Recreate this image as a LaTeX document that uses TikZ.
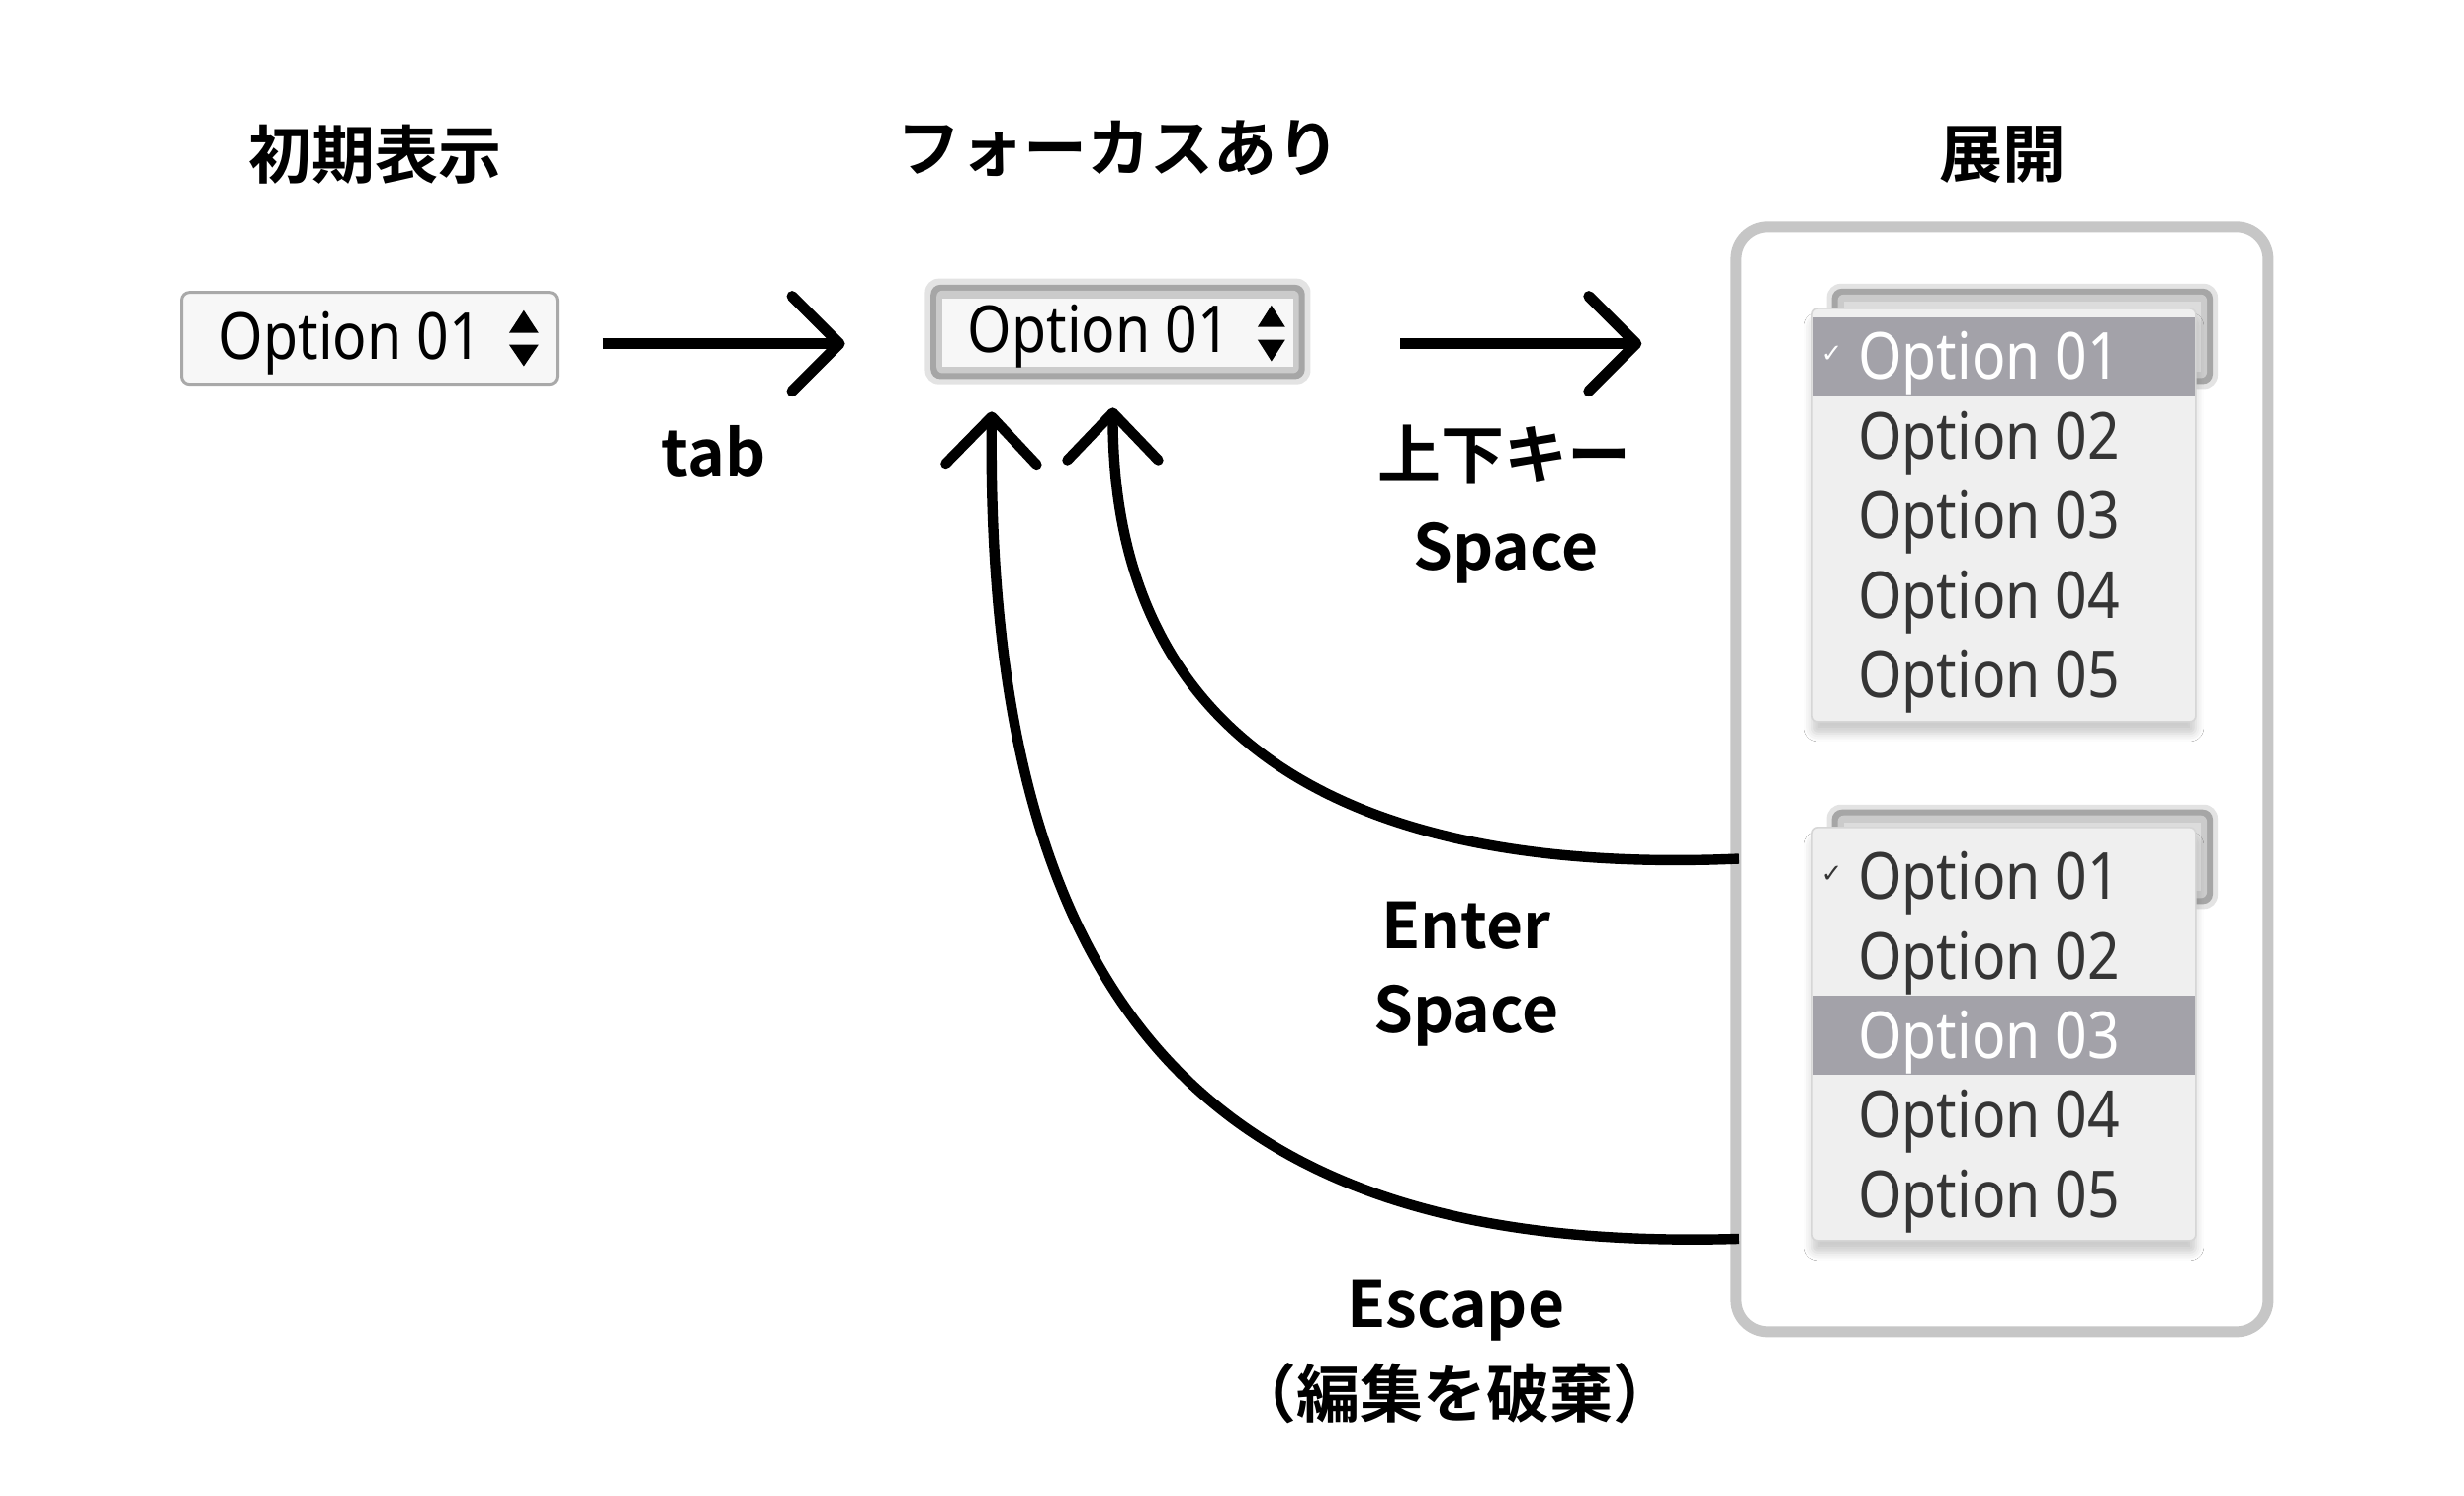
\documentclass[tikz,border=0pt]{standalone}
\usepackage{fontspec}
\usetikzlibrary{arrows.meta,shadows.blur}
\newfontfamily\jpb{Noto Sans CJK JP Bold}
\newfontfamily\optf[FakeStretch=0.87]{Noto Sans}
\newfontfamily\symf{DejaVu Sans}
\definecolor{boxborder}{HTML}{A9A9A9}
\definecolor{boxfill}{HTML}{F7F7F7}
\definecolor{glow}{HTML}{E3E3E3}
\definecolor{ring}{HTML}{A6A6A6}
\definecolor{band}{HTML}{CBCBCB}
\definecolor{panelgray}{HTML}{C6C6C6}
\definecolor{listbg}{HTML}{EFEFEF}
\definecolor{listborder}{HTML}{D6D6D6}
\definecolor{hl}{HTML}{A3A2A9}
\definecolor{opttext}{HTML}{353535}
\begin{document}
\begin{tikzpicture}[x=0.25pt,y=-0.25pt,
  lbl/.style={font=\jpb\fontsize{16pt}{20pt}\selectfont, inner sep=0pt},
  opt/.style={font=\optf\fontsize{16.4pt}{20pt}\selectfont, inner sep=0pt, anchor=base west, text=opttext},
  flow/.style={line width=2.75pt, line cap=butt, -{Straight Barb[length=12pt,width=24pt,round]}},
  flowc/.style={line width=2.6pt, line cap=butt, -{Straight Barb[length=12pt,width=23pt,round]}},
  tri/.style={fill=black},
  chk/.style={font=\symf\fontsize{6.5pt}{7pt}\selectfont, inner sep=0pt},
  listbox/.style={fill=listbg, draw=listborder, line width=0.4pt, rounded corners=1.5pt,
     minimum width=97pt, minimum height=104.5pt, inner sep=0pt,
     blur shadow={shadow xshift=0pt, shadow yshift=-3pt, shadow blur radius=2pt, shadow opacity=20}}
]
\useasboundingbox (0,0) rectangle (2492,1512);
\begin{scope}[scale=0.996]
% titles
\node[lbl] (t1) at (381,157) {初期表示};
\node[lbl] (t2) at (1136,151) {フォーカスあり};
\node[lbl] (t3) at (2034,157) {展開};

% box 1
\node[draw=boxborder, line width=0.75pt, fill=boxfill, rounded corners=2pt,
      minimum width=95pt, minimum height=23.25pt, inner sep=0pt] (box1) at (375,343.5) {};
\node[opt, text=black] (box1txt) at (222,365) {Option 01};
\fill[tri] (517,338) -- (532,315) -- (547,338) -- cycle;
\fill[tri] (517,350) -- (547,350) -- (532,372) -- cycle;

% box 2 (focused)
\node[fill=glow, rounded corners=3.5pt, minimum width=97.5pt, minimum height=26.75pt, inner sep=0pt] (box2) at (1135,336.5) {};
\fill[ring, rounded corners=2.5pt] (945,289) rectangle (1325,385);
\fill[band, rounded corners=1.5pt] (951,295) rectangle (1319,379);
\fill[boxfill] (957,303) rectangle (1313,372);
\node[opt, text=black] (box2txt) at (982,358) {Option 01};
\fill[tri] (1277,332) -- (1291,310) -- (1305,332) -- cycle;
\fill[tri] (1277,345) -- (1305,345) -- (1291,367) -- cycle;

% panel
\node[draw=panelgray, fill=white, line width=2.75pt, rounded corners=8pt,
      minimum width=134.5pt, minimum height=279.25pt, inner sep=0pt] (panel) at (2033,791.5) {};

% dropdown 1
\fill[glow, rounded corners=3.5pt] (1855,288) rectangle (2252,395);
\fill[ring, rounded corners=2.5pt] (1860,293) rectangle (2247,390);
\fill[band, rounded corners=1.5pt] (1866,299) rectangle (2241,384);
\fill[listbg!92!black] (1872,306) rectangle (2235,377);
\node[listbox] (list1) at (2035,523) {};
\fill[hl] (1841,322) rectangle (2229,403);
\node[chk, text=white] (c1) at (1860,360) {✓};
\node[opt, text=white] (d1o1) at (1886,385.5) {Option 01};
\node[opt] (d1o2) at (1886,466) {Option 02};
\node[opt] (d1o3) at (1886,547) {Option 03};
\node[opt] (d1o4) at (1886,627.5) {Option 04};
\node[opt] (d1o5) at (1886,708) {Option 05};

% dropdown 2
\fill[glow, rounded corners=3.5pt] (1855,817) rectangle (2252,923);
\fill[ring, rounded corners=2.5pt] (1860,822) rectangle (2247,918);
\fill[band, rounded corners=1.5pt] (1866,828) rectangle (2241,912);
\fill[listbg!92!black] (1872,835) rectangle (2235,905);
\node[listbox] (list2) at (2035,1050) {};
\fill[hl] (1841,1011) rectangle (2229,1091);
\node[chk, text=opttext] (c2) at (1860,888) {✓};
\node[opt] (d2o1) at (1886,913.5) {Option 01};
\node[opt] (d2o2) at (1886,994) {Option 02};
\node[opt, text=white] (d2o3) at (1886,1074.5) {Option 03};
\node[opt] (d2o4) at (1886,1155) {Option 04};
\node[opt] (d2o5) at (1886,1236) {Option 05};

% forward arrows
\coordinate (a1s) at (612,349);
\coordinate (a1e) at (858,349);
\draw[flow] (a1s) -- (a1e);
\coordinate (a2s) at (1422,349);
\coordinate (a2e) at (1667,349);
\draw[flow] (a2s) -- (a2e);

% return arrows
\coordinate (r1s) at (1766,872);
\coordinate (r1e) at (1130,414);
\draw[flowc] (r1s) .. controls (1300,892) and (1130,700) .. (r1e);
\coordinate (r2s) at (1766,1258);
\coordinate (r2e) at (1007,418);
\draw[flowc] (r2s) .. controls (1280,1272) and (1000,1080) .. (r2e);

% labels
\node[lbl, anchor=base] (ltab) at (725,483) {tab};
\node[lbl] (lkey) at (1528,461) {上下キー};
\node[lbl, anchor=base] (lsp1) at (1529,579) {Space};
\node[lbl, anchor=base] (lent) at (1489,963) {Enter};
\node[lbl, anchor=base] (lsp2) at (1489,1049) {Space};
\node[lbl, anchor=base] (lesc) at (1478,1348) {Escape};
\node[lbl] (lhaki) at (1477,1415) {（編集を破棄）};
\end{scope}
\end{tikzpicture}
\end{document}
